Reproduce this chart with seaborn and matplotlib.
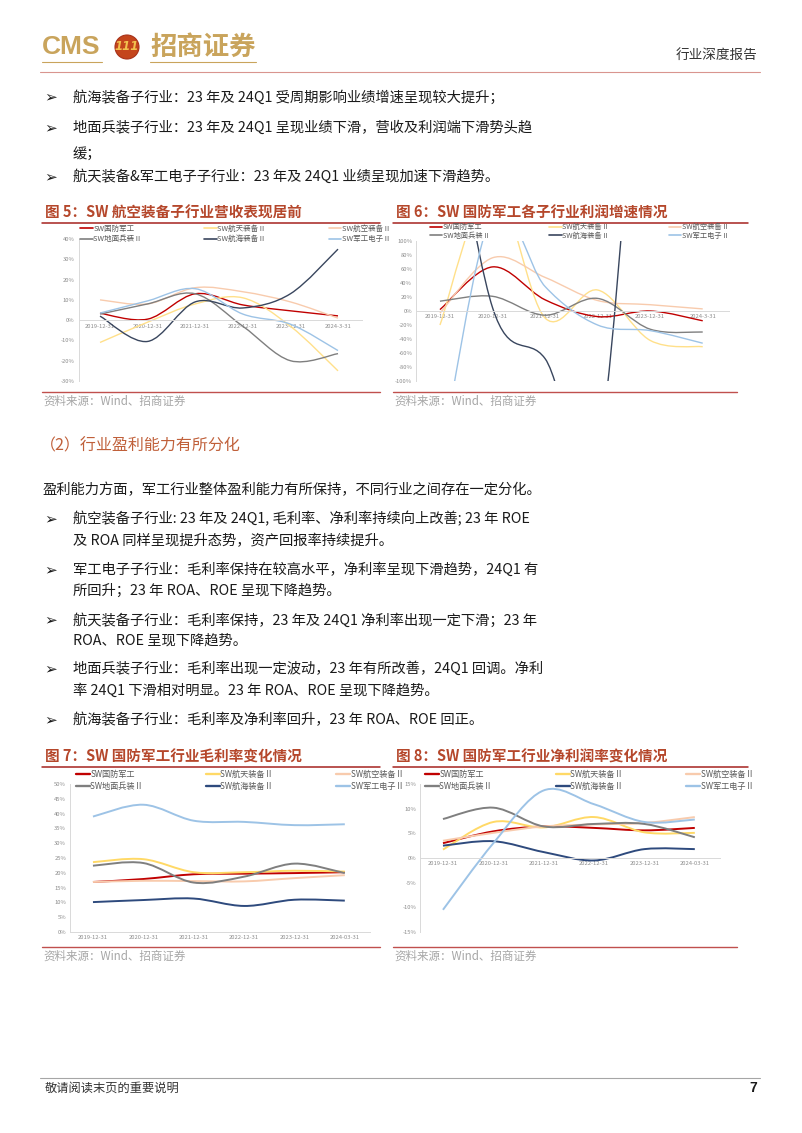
import numpy as np
import pandas as pd
import matplotlib
matplotlib.use("Agg")
import matplotlib.pyplot as plt
import seaborn as sns
from matplotlib.path import Path
from matplotlib.patches import PathPatch, Circle
from matplotlib.lines import Line2D

W, H = 802, 1133

series_names = ["SW国防军工", "SW航天装备 II", "SW航空装备 II",
                "SW地面兵装 II", "SW航海装备 II", "SW军工电子 II"]
dates_a = ["2019-12-31", "2020-12-31", "2021-12-31", "2022-12-31", "2023-12-31", "2024-3-31"]
dates_b = ["2019-12-31", "2020-12-31", "2021-12-31", "2022-12-31", "2023-12-31", "2024-03-31"]

# 图5 营收增速 (%)
rev_defense = [3.4, 0.5, 13, 7.5, 4.6, 2.1]
rev_space = [-11, -1, 8, 11, -3, -25]
rev_aero = [10, 8, 16, 14, 9, 1]
rev_ground = [3, 8, 13, -3, -20, -16.5]
rev_marine = [2, -10.5, 9, 6, 13, 35]
rev_elec = [3.5, 9.5, 15.5, 3, -2, -15]

# 图6 利润增速 (%)
prof_defense = [2, 63, 16, -8, 0, -14]
prof_space = [-20, 180, -10, 30, -42, -51]
prof_aero = [-3, 76, 48, 15, 9, 3]
prof_ground = [14, 21, -6, 18, -26, -30]
prof_marine = [400, 5, -68, -200, 500, 300]
prof_elec = [-220, 140, 35, -20, -28, -46]

# 图7 毛利率 (%)
gm_defense = [16.9, 17.9, 19.5, 19.7, 19.9, 20.2]
gm_space = [23.6, 24.6, 20.2, 20.2, 20.7, 20.4]
gm_aero = [16.9, 17.3, 17.2, 17.1, 18.2, 19.2]
gm_ground = [22.4, 23.3, 16.7, 18.7, 23.1, 19.9]
gm_marine = [10.1, 10.8, 11.3, 8.8, 10.9, 10.6]
gm_elec = [39, 43, 37.6, 37.2, 36.1, 36.4]

# 图8 净利润率 (%)
nm_defense = [3.0, 5.4, 6.4, 6.1, 5.6, 6.1]
nm_space = [1.7, 7.3, 6.2, 8.3, 5.2, 5.1]
nm_aero = [3.5, 5.1, 6.4, 6.8, 7.1, 8.3]
nm_ground = [7.9, 10.2, 6.4, 6.9, 6.9, 4.2]
nm_marine = [2.5, 3.4, 1.2, -0.5, 1.8, 1.8]
nm_elec = [-10.5, 3, 13.7, 10.9, 7.3, 7.8]

colors_thin = ["#C00000", "#FFE08A", "#F8CBAD", "#7F7F7F", "#39465E", "#9DC3E6"]
colors_thick = ["#C00000", "#FFD966", "#F8CBAD", "#7F7F7F", "#2E4A7D", "#9DC3E6"]

sns.set_style("white")
plt.rcParams["font.family"] = ["Noto Sans CJK SC", "DejaVu Sans"]

fig = plt.figure(figsize=(W / 100, H / 100), dpi=100)
ax0 = fig.add_axes([0, 0, 1, 1])
ax0.set_xlim(0, W)
ax0.set_ylim(H, 0)
ax0.axis("off")


def rect(x0, y0, x1, y1):
    return [x0 / W, 1 - y1 / H, (x1 - x0) / W, (y1 - y0) / H]


def smooth(xs, ys):
    # Catmull-Rom style bezier, like Excel's smoothed line
    pts = np.column_stack([xs, ys]).astype(float)
    n = len(pts)
    verts = [pts[0]]
    codes = [Path.MOVETO]
    for i in range(n - 1):
        p0 = pts[i - 1] if i > 0 else pts[i]
        p1, p2 = pts[i], pts[i + 1]
        p3 = pts[i + 2] if i + 2 < n else pts[i + 1]
        verts += [p1 + (p2 - p0) / 6, p2 - (p3 - p1) / 6, p2]
        codes += [Path.CURVE4] * 3
    return Path(verts, codes)


def chart(box, values, dates, ylim, yticks, colors, lw, leg_box, leg_fs, leg_pitch):
    ax = fig.add_axes(rect(*box))
    ax.set_facecolor("none")
    df = pd.DataFrame({
        "x": np.tile(np.arange(len(dates)), len(series_names)),
        "series": np.repeat(series_names, len(dates)),
        "val": np.concatenate(values),
    })
    sns.lineplot(data=df, x="x", y="val", hue="series", hue_order=series_names,
                 palette=colors, linewidth=lw, legend=False, ax=ax)
    for line in list(ax.lines):
        ax.add_patch(PathPatch(smooth(line.get_xdata(), line.get_ydata()), fill=False,
                               edgecolor=line.get_color(), lw=lw, zorder=line.get_zorder()))
        line.remove()
    ax.set_xlim(-0.45, 5.5)
    ax.set_ylim(*ylim)
    ax.set_xlabel("")
    ax.set_ylabel("")
    for s in ["top", "right"]:
        ax.spines[s].set_visible(False)
    ax.spines["left"].set_color("#D9D9D9")
    ax.spines["left"].set_linewidth(0.7)
    ax.spines["bottom"].set_position(("data", 0))
    ax.spines["bottom"].set_color("#D9D9D9")
    ax.spines["bottom"].set_linewidth(0.7)
    ax.set_xticks(range(len(dates)))
    ax.set_xticklabels(dates)
    ax.set_yticks(yticks)
    ax.set_yticklabels([f"{v}%" for v in yticks])
    ax.tick_params(axis="x", length=0, pad=2.5, labelsize=4.2, labelcolor="#8C8C8C")
    ax.tick_params(axis="y", length=1.5, width=0.5, color="#D9D9D9", pad=1.5,
                   labelsize=4.2, labelcolor="#8C8C8C")
    order = [0, 3, 1, 4, 2, 5]
    handles = [Line2D([], [], color=colors[i], lw=lw * 1.2) for i in order]
    labels = [series_names[i] for i in order]
    x0, y0, x1, y1 = leg_box
    fig.legend(handles, labels, loc="center", bbox_to_anchor=rect(x0, y0, x1, y1),
               bbox_transform=fig.transFigure, ncol=3, mode="expand", frameon=False,
               fontsize=leg_fs, handlelength=1.7, handletextpad=0.05, borderpad=0,
               borderaxespad=0, labelspacing=leg_pitch, columnspacing=0,
               labelcolor="#595959")
    return ax


# ---- header ----
ax0.text(42, 47, "CMS", fontsize=19, fontweight="bold", color="#C9A45C",
         family="Liberation Sans", va="center")
ax0.add_patch(Circle((127, 47), 12, fc="#C4451C", ec="#A8321A", lw=0.8))
ax0.text(127, 47, "111", fontsize=8.5, fontweight="bold", style="italic", color="#F2C14E",
         family="DejaVu Sans", ha="center", va="center")
ax0.text(150, 47, "招商证券", fontsize=19, fontweight="bold", color="#C9A45C", va="center")
ax0.plot([42, 102], [61.5, 61.5], color="#C9A45C", lw=0.8)
ax0.plot([150, 256], [61.5, 61.5], color="#C9A45C", lw=0.8)
ax0.text(757, 55, "行业深度报告", fontsize=9.8, color="#333333", ha="right", va="center")
ax0.plot([40, 760], [72, 72], color="#D9958F", lw=0.8)

body = dict(fontsize=10.3, color="#1A1A1A", va="center")
arrow = dict(fontsize=11, color="#1A1A1A", va="center", family=["DejaVu Sans"])

top_bullets = [
    (97, "航海装备子行业：23 年及 24Q1 受周期影响业绩增速呈现较大提升；", True),
    (128, "地面兵装子行业：23 年及 24Q1 呈现业绩下滑，营收及利润端下滑势头趋", True),
    (154, "缓；", False),
    (177, "航天装备&军工电子子行业：23 年及 24Q1 业绩呈现加速下滑趋势。", True),
]
for y, s, a in top_bullets:
    if a:
        ax0.text(44, y, "➢", **arrow)
    ax0.text(73, y, s, **body)

# ---- figure titles and rules ----
title = dict(fontsize=10.5, fontweight="bold", color="#B5472B", va="center")
src = dict(fontsize=8.3, color="#A6A6A6", va="center")
for x0, x1, x1b, ty, t in [
    (42, 380, 380, 213, "图 5：SW 航空装备子行业营收表现居前"),
    (393, 748, 737, 213, "图 6：SW 国防军工各子行业利润增速情况"),
    (42, 380, 380, 757, "图 7：SW 国防军工行业毛利率变化情况"),
    (393, 748, 737, 757, "图 8：SW 国防军工行业净利润率变化情况"),
]:
    ax0.text(x0 + 3, ty, t, **title)
    ax0.plot([x0, x1], [ty + 9.5, ty + 9.5], color="#A5231F", lw=1.1)
    yb = 392 if ty == 213 else 947
    ax0.plot([x0, x1b], [yb, yb], color="#C0504D", lw=1.0)
    ax0.text(x0 + 1, yb + 9, "资料来源：Wind、招商证券", **src)

# ---- charts ----
chart((78.6, 239, 361.8, 381),
      [rev_defense, rev_space, rev_aero, rev_ground, rev_marine, rev_elec],
      dates_a, (-30, 40), list(range(-30, 41, 10)), colors_thin, 1.0,
      (80, 226, 389, 242), 5.4, 0.35)
chart((416.3, 241, 729, 381),
      [prof_defense, prof_space, prof_aero, prof_ground, prof_marine, prof_elec],
      dates_a, (-100, 100), list(range(-100, 101, 20)), colors_thin, 1.0,
      (430, 224, 727, 239), 5.2, 0.12)
chart((70.3, 784, 370, 932),
      [gm_defense, gm_space, gm_aero, gm_ground, gm_marine, gm_elec],
      dates_b, (0, 50), list(range(0, 51, 5)), colors_thick, 1.4,
      (76, 771, 402, 790), 5.9, 0.45)
chart((420.3, 784, 720, 932),
      [nm_defense, nm_space, nm_aero, nm_ground, nm_marine, nm_elec],
      dates_b, (-15, 15), list(range(-15, 16, 5)), colors_thick, 1.4,
      (425, 771, 752, 790), 5.9, 0.45)

# ---- section 2 ----
ax0.text(40, 446, "（2）行业盈利能力有所分化", fontsize=11.5, color="#C0603A", va="center")
ax0.text(43, 490, "盈利能力方面，军工行业整体盈利能力有所保持，不同行业之间存在一定分化。", **body)
lower_bullets = [
    (519, "航空装备子行业: 23 年及 24Q1, 毛利率、净利率持续向上改善; 23 年 ROE", True),
    (541, "及 ROA 同样呈现提升态势，资产回报率持续提升。", False),
    (570, "军工电子子行业：毛利率保持在较高水平，净利率呈现下滑趋势，24Q1 有", True),
    (591, "所回升；23 年 ROA、ROE 呈现下降趋势。", False),
    (620, "航天装备子行业：毛利率保持，23 年及 24Q1 净利率出现一定下滑；23 年", True),
    (641, "ROA、ROE 呈现下降趋势。", False),
    (669, "地面兵装子行业：毛利率出现一定波动，23 年有所改善，24Q1 回调。净利", True),
    (691, "率 24Q1 下滑相对明显。23 年 ROA、ROE 呈现下降趋势。", False),
    (720, "航海装备子行业：毛利率及净利率回升，23 年 ROA、ROE 回正。", True),
]
for y, s, a in lower_bullets:
    if a:
        ax0.text(44, y, "➢", **arrow)
    ax0.text(73, y, s, **body)

# ---- footer ----
ax0.plot([40, 760], [1078, 1078], color="#A6A6A6", lw=0.8)
ax0.text(45, 1088, "敬请阅读末页的重要说明", fontsize=8.8, color="#333333", va="center")
ax0.text(757, 1088, "7", fontsize=10, fontweight="bold", color="#1A1A1A", ha="right",
         va="center", family="Liberation Sans")

fig.savefig("out.png", dpi=100)
